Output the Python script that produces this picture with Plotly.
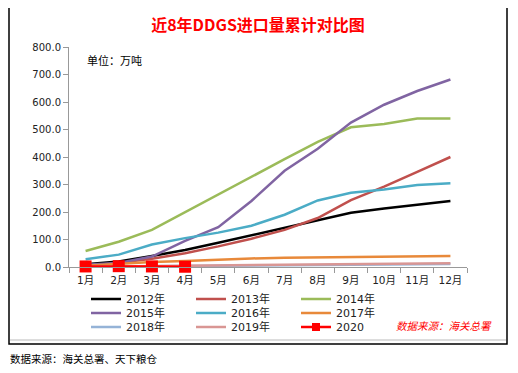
import plotly.graph_objects as go

months = ["1月", "2月", "3月", "4月", "5月", "6月", "7月", "8月", "9月", "10月", "11月", "12月"]
y2012 = [10, 20, 40, 62, 88, 115, 143, 171, 197, 213, 226, 240]
y2013 = [5, 15, 30, 50, 75, 103, 135, 178, 243, 292, 346, 400]
y2014 = [58, 92, 135, 200, 262, 328, 392, 455, 508, 520, 540, 540]
y2015 = [8, 15, 38, 95, 145, 240, 350, 430, 525, 590, 640, 682]
y2016 = [28, 45, 82, 105, 125, 150, 190, 242, 270, 282, 298, 305]
y2017 = [5, 12, 18, 22, 27, 31, 34, 35, 36, 37, 39, 40]
y2018 = [1, 2, 3, 4, 5, 6, 6, 7, 8, 9, 10, 11]
y2019 = [1, 2, 3, 4, 5, 6, 7, 8, 9, 10, 12, 14]
months2020 = ["1月", "2月", "3月", "4月"]
y2020 = [2, 3, 2, 1]
y_ticks = [0, 100, 200, 300, 400, 500, 600, 700, 800]

series = [
    ("2012年", y2012, "#000000", "legend"),
    ("2013年", y2013, "#C0504D", "legend"),
    ("2014年", y2014, "#9BBB59", "legend"),
    ("2015年", y2015, "#8064A2", "legend2"),
    ("2016年", y2016, "#4BACC6", "legend2"),
    ("2017年", y2017, "#E8893A", "legend2"),
    ("2018年", y2018, "#95B3D7", "legend3"),
    ("2019年", y2019, "#D99694", "legend3"),
]

fig = go.Figure()
for name, ys, col, lg in series:
    fig.add_trace(go.Scatter(x=months, y=ys, name=name, mode="lines",
                             line=dict(color=col, width=2.5), legend=lg))
fig.add_trace(go.Scatter(x=months2020, y=y2020, name="2020", mode="lines+markers",
                         line=dict(color="#FF0000", width=2.5),
                         marker=dict(symbol="square", size=12, color="#FF0000"),
                         cliponaxis=False, showlegend=False))
# legend-only entry for 2020 with a smaller symbol, as in the reference legend
fig.add_trace(go.Scatter(x=[None], y=[None], name="2020", mode="lines+markers",
                         line=dict(color="#FF0000", width=2.5),
                         marker=dict(symbol="square", size=8, color="#FF0000"),
                         legend="legend3"))

OFF = 8  # page body margin
W, H = 510, 365
L, R, T, B = 61, 51, 39, 106
pw, ph = W - L - R, H - T - B

def px(x):  # screenshot x -> paper
    return (x - OFF - L) / pw

def py(y):  # screenshot y -> paper
    return (H - B - (y - OFF)) / ph

font = "DejaVu Sans, Noto Sans CJK SC, sans-serif"
legfont = dict(family=font, size=11, color="#222")
common = dict(orientation="h", entrywidth=60, entrywidthmode="pixels",
              font=legfont, bgcolor="rgba(0,0,0,0)", xanchor="left", yanchor="middle",
              itemwidth=30, tracegroupgap=0)

fig.update_layout(
    width=W, height=H,
    margin=dict(l=L, r=R, t=T, b=B, autoexpand=False),
    paper_bgcolor="white", plot_bgcolor="white",
    font=dict(family=font, size=10, color="#222"),
    title=dict(text="<b>近8年DDGS进口量累计对比图</b>", x=(258 - OFF) / W, xref="container",
               xanchor="center", y=1 - (25 - OFF) / H, yanchor="middle",
               font=dict(family="Noto Sans CJK SC", size=16, color="#FF0000")),
    xaxis=dict(type="category", range=[-0.5, 11.5], showgrid=False,
               showline=True, linecolor="#999", linewidth=1,
               ticks="outside", ticklen=5, tickcolor="#999", tickson="boundaries",
               ticklabelstandoff=3,
               tickfont=dict(family=font, size=10.5, color="#222")),
    yaxis=dict(range=[0, 800], tickvals=y_ticks, tickformat=".1f", showgrid=False,
               showline=True, linecolor="#999", linewidth=1, zeroline=False,
               ticks="outside", ticklen=5, tickcolor="#999",
               tickfont=dict(family=font, size=10, color="#222")),
    legend=dict(x=px(86), y=py(299), **common),
    legend2=dict(x=px(86), y=py(313), **common),
    legend3=dict(x=px(86), y=py(327), **common),
    showlegend=True,
)

fig.add_annotation(text="单位：万吨", xref="paper", yref="paper", x=px(85), y=py(60),
                   xanchor="left", yanchor="middle", showarrow=False,
                   font=dict(family="Noto Sans CJK SC", size=11, color="#000"))
fig.add_annotation(text="<i>数据来源：海关总署</i>", xref="paper", yref="paper", x=px(394), y=py(325),
                   xanchor="left", yanchor="middle", showarrow=False,
                   font=dict(family="Noto Sans CJK SC", size=10.5, color="#FF0000"))
fig.add_annotation(text="数据来源：海关总署、天下粮仓", xref="paper", yref="paper", x=px(8), y=py(358),
                   xanchor="left", yanchor="middle", showarrow=False,
                   font=dict(family="Noto Sans CJK SC", size=10.5, color="#000"))

fig.add_shape(type="rect", xref="paper", yref="paper", x0=px(9), x1=px(507), y0=py(344), y1=py(5),
              line=dict(color="#000", width=1.5), layer="below")
fig.add_shape(type="line", xref="paper", yref="paper", x0=px(10), x1=px(506), y0=py(340), y1=py(340),
              line=dict(color="#BBB", width=1), layer="below")

fig.write_html("out.html")
